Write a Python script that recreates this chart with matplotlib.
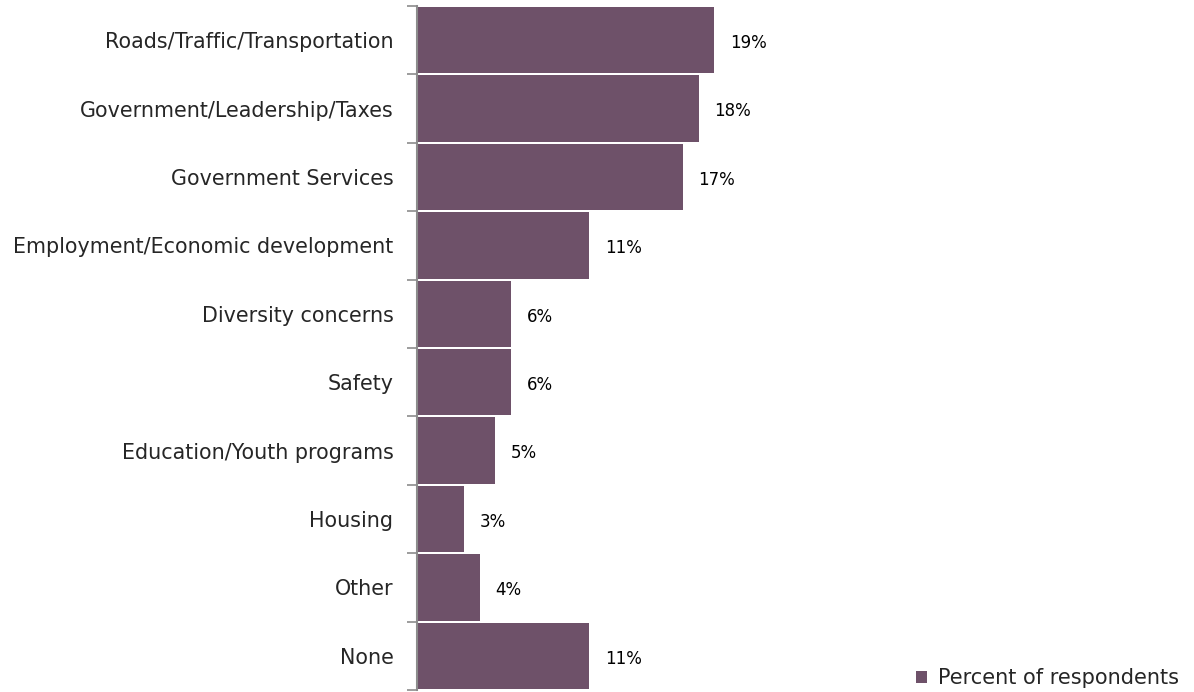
import matplotlib.pyplot as plt
import numpy as np

# Survey results: most important issue
categories = ['Roads/Traffic/Transportation', 'Government/Leadership/Taxes',
              'Government Services', 'Employment/Economic development',
              'Diversity concerns', 'Safety', 'Education/Youth programs',
              'Housing', 'Other', 'None']
percent = [19, 18, 17, 11, 6, 6, 5, 3, 4, 11]

bar_color = '#6E5169'
text_color = '#262626'

fig = plt.figure(figsize=(11.94, 6.92), dpi=100)
ax = fig.add_axes([417 / 1194, 2 / 692, 391 / 1194, 684 / 692])

y = np.arange(len(categories))
bars = ax.barh(y, percent, height=0.97, color=bar_color,
               label='Percent of respondents')
ax.set_ylim(len(categories) - 0.5, -0.5)
ax.set_xlim(0, 25)

for b, v in zip(bars, percent):
    ax.text(b.get_width() + 1.0, b.get_y() + b.get_height() / 2 + 0.04, f'{v}%',
            va='center', ha='left', fontsize=12, color='black')

ax.set_yticks(y)
ax.set_yticklabels(categories, fontsize=14.9, color=text_color)
ax.set_yticks(np.arange(len(categories) + 1) - 0.5, minor=True)
ax.tick_params(axis='y', which='major', length=0, pad=17)
ax.tick_params(axis='y', which='minor', length=7, width=1.2, color='#8c8c8c')
ax.set_xticks([])
for s in ['top', 'right', 'bottom']:
    ax.spines[s].set_visible(False)
ax.spines['left'].set_color('#8c8c8c')
ax.spines['left'].set_linewidth(1.5)

fig.legend(handles=[bars], labels=['Percent of respondents'],
           loc='lower right', bbox_to_anchor=(1.003, -0.022), frameon=False,
           fontsize=15, handlelength=0.55, handleheight=0.55, handletextpad=0.5,
           labelcolor=text_color)

fig.savefig('out.png', dpi=100)
